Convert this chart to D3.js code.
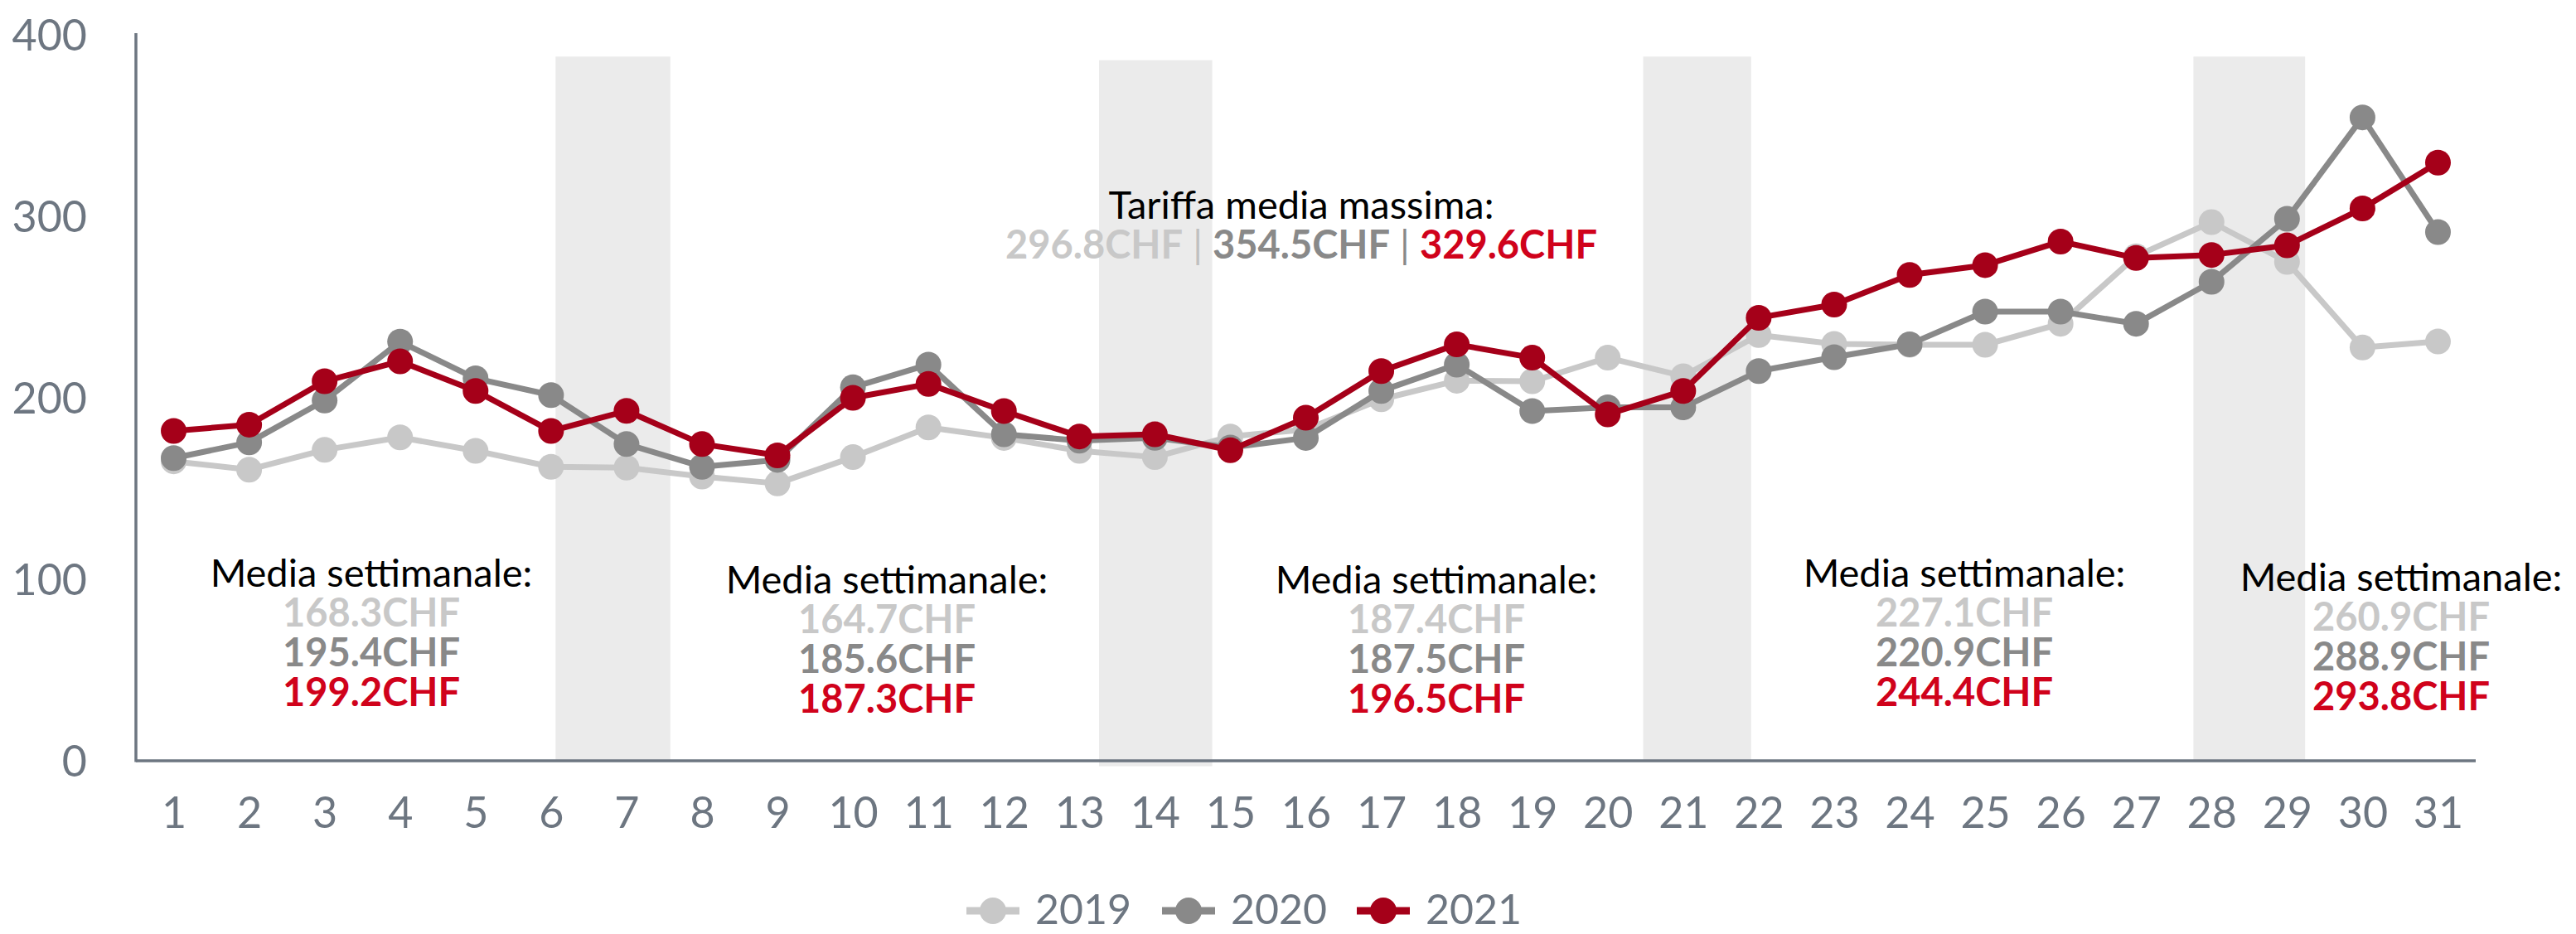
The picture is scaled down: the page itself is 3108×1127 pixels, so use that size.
<!DOCTYPE html>
<html>
<head>
<meta charset="utf-8">
<script src="https://cdn.jsdelivr.net/npm/d3@7"></script>
<style>
  body { margin: 0; background: #fff; }
  svg { display: block; }
  text { font-family: Lato, "Noto Sans", sans-serif; }
</style>
</head>
<body>
<svg id="chart" width="3108" height="1127"></svg>
<script>
// ---------- DATA ----------
const days = [1,2,3,4,5,6,7,8,9,10,11,12,13,14,15,16,17,18,19,20,21,22,23,24,25,26,27,28,29,30,31];
const seriesNames = ["2019", "2020", "2021"];
const values2019 = [165, 160.4, 171.3, 178.2, 170.8, 162, 161.5, 156.6, 152.8, 167.3, 183.7, 177.9, 170.8, 167.3, 178.7, 182.5, 199.2, 209.4, 209.1, 222.1, 211.9, 234.6, 229.7, 229.2, 229.2, 240.8, 278, 296.8, 274.9, 227.7, 231];
const values2020 = [166.8, 175.4, 198.5, 230.9, 210.7, 201.5, 174.5, 162, 165.8, 205.8, 218.3, 179.9, 176.4, 178, 172.6, 177.9, 203.8, 218.3, 192.7, 194.8, 194.7, 214.7, 222.4, 229.5, 247.5, 247.5, 240.8, 263.9, 298.6, 354.5, 291.3];
const values2021 = [181.7, 185.2, 209.1, 220.1, 203.8, 181.7, 192.8, 174.5, 168.3, 200, 207.6, 192.7, 178.7, 179.9, 171.1, 189, 214.7, 229.4, 222.1, 190.9, 203.8, 244.1, 251.4, 267.7, 273.1, 286.1, 277, 278.7, 284, 304.3, 329.6];
const yTicks = [0, 100, 200, 300, 400];
// weekend shading: [startDay, endDay, bottomValue, topValue]
const weekendBands = [[6.06, 7.58, 0, 388], [13.26, 14.76, -3, 386], [20.47, 21.9, 0, 388], [27.76, 29.24, 0, 388]];
// weekly averages per block: [2019, 2020, 2021]
const weeklyAvg = [[168.3, 195.4, 199.2], [164.7, 185.6, 187.3], [187.4, 187.5, 196.5], [227.1, 220.9, 244.4], [260.9, 288.9, 293.8]];
const maxFare = [296.8, 354.5, 329.6];
const weeklyTitle = "Media settimanale:";
const maxTitle = "Tariffa media massima:";
const unit = "CHF";

// ---------- LAYOUT / STYLE ----------
const W = 3108, H = 1127;
const plot = { left: 164, right: 2987, top: 40, bottom: 918 };
const lineColors = ["#c8c8c8", "#898989", "#a50019"];
const textColors = ["#c8c8c8", "#898989", "#d0021b"];
const axisColor = "#6d7681";
const blockPos = [[448, 708], [1070, 716], [1733, 716], [2370, 708], [2897, 713]];
const fs = 47, lineGap = 48;

const svg = d3.select("#chart");

const x = d3.scalePoint().domain(days).range([plot.left, plot.right]).padding(0.5);
const xl = d3.scaleLinear().domain([1, 31]).range([x(1), x(31)]);
const y = d3.scaleLinear().domain([0, 400]).range([plot.bottom, 918 - 400 * 2.19]);

// weekend bands
svg.append("g").selectAll("rect").data(weekendBands).join("rect")
  .attr("x", d => xl(d[0]))
  .attr("width", d => xl(d[1]) - xl(d[0]))
  .attr("y", d => y(d[3]))
  .attr("height", d => y(d[2]) - y(d[3]))
  .attr("fill", "#ebebeb");

// axes
const yAxis = d3.axisLeft(y).tickValues(yTicks).tickSize(0).tickPadding(59);
const gy = svg.append("g").attr("transform", `translate(${plot.left},0)`).call(yAxis);
gy.select(".domain").remove();
gy.selectAll("text").attr("font-size", 52).attr("fill", axisColor).attr("font-family", "Lato").attr("dy", "0.36em");
svg.append("line").attr("x1", plot.left).attr("x2", plot.left).attr("y1", plot.top).attr("y2", plot.bottom + 1.5)
  .attr("stroke", axisColor).attr("stroke-width", 3.5);

const xAxis = d3.axisBottom(x).tickSize(0).tickPadding(44);
const gx = svg.append("g").attr("transform", `translate(0,${plot.bottom})`).call(xAxis);
gx.select(".domain").remove();
gx.selectAll("text").attr("font-size", 52).attr("fill", axisColor).attr("font-family", "Lato");
svg.append("line").attr("x1", plot.left).attr("x2", plot.right).attr("y1", plot.bottom).attr("y2", plot.bottom)
  .attr("stroke", axisColor).attr("stroke-width", 3.5);

// series
const allSeries = [values2019, values2020, values2021];
const line = d3.line().x((d, i) => x(days[i])).y(d => y(d));
allSeries.forEach((vals, si) => {
  const g = svg.append("g");
  g.append("path").datum(vals).attr("d", line).attr("fill", "none")
    .attr("stroke", lineColors[si]).attr("stroke-width", 7).attr("stroke-linejoin", "round");
  g.selectAll("circle").data(vals).join("circle")
    .attr("cx", (d, i) => x(days[i])).attr("cy", d => y(d)).attr("r", 15.5)
    .attr("fill", lineColors[si]);
});

// weekly average blocks
weeklyAvg.forEach((vals, bi) => {
  const [cx, by] = blockPos[bi];
  const g = svg.append("g").attr("text-anchor", "middle").attr("font-size", fs);
  g.append("text").attr("x", cx).attr("y", by).attr("fill", "#000").text(weeklyTitle);
  vals.forEach((v, si) => {
    g.append("text").attr("x", cx).attr("y", by + lineGap * (si + 1))
      .attr("fill", textColors[si]).attr("font-weight", 700)
      .text(v.toFixed(1) + unit);
  });
});

// max fare annotation
const mg = svg.append("g").attr("text-anchor", "middle").attr("font-size", fs);
mg.append("text").attr("x", 1570).attr("y", 264).attr("fill", "#000").text(maxTitle);
const mt = mg.append("text").attr("x", 1570).attr("y", 312).attr("font-weight", 700);
const pipeColors = ["#c0c0c0", "#898989"];
maxFare.forEach((v, i) => {
  mt.append("tspan").attr("fill", textColors[i]).text(v.toFixed(1) + unit);
  if (i < maxFare.length - 1) mt.append("tspan").attr("fill", pipeColors[i]).attr("font-weight", 400).text(" | ");
});

// legend
const legendX = [1166, 1402, 1637];
const legendY = 1099;
seriesNames.forEach((name, i) => {
  const g = svg.append("g").attr("transform", `translate(${legendX[i]},${legendY})`);
  g.append("line").attr("x1", 0).attr("x2", 64).attr("y1", 0).attr("y2", 0)
    .attr("stroke", lineColors[i]).attr("stroke-width", 9);
  g.append("circle").attr("cx", 32).attr("cy", 0).attr("r", 16).attr("fill", lineColors[i]);
  g.append("text").attr("x", 83).attr("y", 16).attr("font-size", 50).attr("fill", axisColor).text(name);
});
</script>
</body>
</html>
